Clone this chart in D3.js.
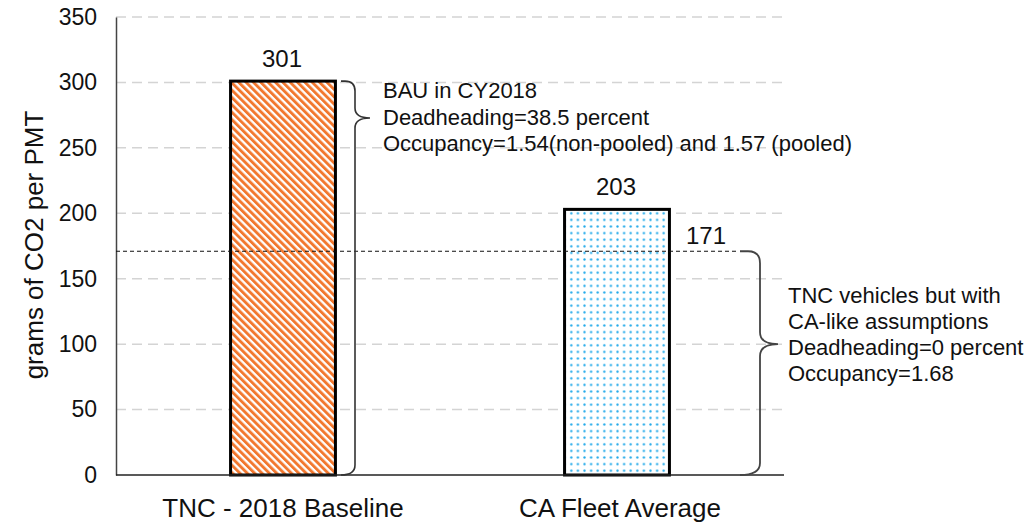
<!DOCTYPE html>
<html><head><meta charset="utf-8">
<script src="https://cdn.jsdelivr.net/npm/d3@7"></script>
<style>body{margin:0;background:#fff}svg{display:block;font-family:"Liberation Sans",Arial,sans-serif}</style>
</head><body><svg id="c" width="1035" height="523"></svg>
<script>
const categories = ["TNC - 2018 Baseline", "CA Fleet Average"];
const values = [301, 203];
const refValue = 171;
const yTicks = [0, 50, 100, 150, 200, 250, 300, 350];
const note1 = ["BAU in CY2018", "Deadheading=38.5 percent", "Occupancy=1.54(non-pooled) and 1.57 (pooled)"];
const note2 = ["TNC vehicles but with", "CA-like assumptions", "Deadheading=0 percent", "Occupancy=1.68"];
const yTitle = "grams of CO2 per PMT";

const svg = d3.select("#c");
const L = 116, R = 784, T = 17, B = 475;
const y = d3.scaleLinear().domain([0, 350]).range([B, T]);
const x = d3.scaleBand().domain(categories).range([L, R]).paddingInner(0.686).paddingOuter(0.343);

const defs = svg.append("defs");
const p1 = defs.append("pattern").attr("id","stripes").attr("patternUnits","userSpaceOnUse")
  .attr("width",5.2).attr("height",10).attr("patternTransform","rotate(-45)");
p1.append("rect").attr("width",5.2).attr("height",10).attr("fill","#fff");
p1.append("rect").attr("width",2.9).attr("height",10).attr("fill","#f2782f");
const p2 = defs.append("pattern").attr("id","dots").attr("patternUnits","userSpaceOnUse")
  .attr("width",6.6).attr("height",6.6).attr("x",568).attr("y",210);
p2.append("rect").attr("width",6.6).attr("height",6.6).attr("fill","#fff");
p2.append("circle").attr("cx",3.3).attr("cy",3.3).attr("r",1.15).attr("fill","#22aaea");

// gridlines
svg.append("g").selectAll("line").data(yTicks.filter(d=>d>0)).join("line")
  .attr("x1",L).attr("x2",R).attr("y1",d=>y(d)).attr("y2",d=>y(d))
  .attr("stroke","#d4d4d4").attr("stroke-width",1.5).attr("stroke-dasharray","10,6");

// y axis
const ya = svg.append("g").attr("transform",`translate(${L},0)`)
  .call(d3.axisLeft(y).tickValues(yTicks).tickSize(0).tickPadding(19));
ya.select(".domain").attr("stroke","#444").attr("stroke-width",1.5);
ya.selectAll("text").attr("font-size",23).attr("fill","#111").attr("font-family","Liberation Sans, Arial, sans-serif");

// bars
const fills = ["url(#stripes)","url(#dots)"];
svg.append("g").selectAll("rect").data(values).join("rect")
  .attr("x",(d,i)=>x(categories[i])).attr("width",x.bandwidth())
  .attr("y",d=>y(d)).attr("height",d=>B-y(d))
  .attr("fill",(d,i)=>fills[i]).attr("stroke","#000").attr("stroke-width",3);

// baseline
svg.append("line").attr("x1",L).attr("x2",R).attr("y1",B).attr("y2",B).attr("stroke","#222").attr("stroke-width",1.5);

// reference dashed line
svg.append("line").attr("x1",L).attr("x2",738).attr("y1",y(refValue)).attr("y2",y(refValue))
  .attr("stroke","#111").attr("stroke-width",1.2).attr("stroke-dasharray","4,3");

// value labels
svg.append("g").selectAll("text").data(values).join("text")
  .attr("x",(d,i)=>x(categories[i])+x.bandwidth()/2 - 1).attr("y",d=>y(d)-14)
  .attr("text-anchor","middle").attr("font-size",24).attr("fill","#111").text(d=>d);
svg.append("text").attr("x",706).attr("y",y(refValue)-7).attr("text-anchor","middle")
  .attr("font-size",24).attr("fill","#111").text(refValue);

// x labels
svg.append("g").selectAll("text").data(categories).join("text")
  .attr("x",(d,i)=>x(d)+x.bandwidth()/2 + (i===1?3:0)).attr("y",517).attr("text-anchor","middle")
  .attr("font-size",26).attr("fill","#111").text(d=>d);

// y title
svg.append("text").attr("transform","translate(43,245) rotate(-90)").attr("text-anchor","middle")
  .attr("font-size",26).attr("fill","#111").text(yTitle);

// braces
function brace(x0, xv, xt, yTop, yTip, yBot, r) {
  return `M${x0},${yTop} L${xv-r},${yTop} Q${xv},${yTop} ${xv},${yTop+r} L${xv},${yTip-r} Q${xv},${yTip} ${xt},${yTip} `
   + `Q${xv},${yTip} ${xv},${yTip+r} L${xv},${yBot-r} Q${xv},${yBot} ${x0},${yBot}`;
}
svg.append("path").attr("d",brace(341, 355, 370, y(values[0]), 118, B, 10))
  .attr("fill","none").attr("stroke","#333").attr("stroke-width",1.6);
svg.append("path").attr("d",brace(740, 760, 778, y(refValue), y(100), B, 12))
  .attr("fill","none").attr("stroke","#444").attr("stroke-width",1.8);

// notes
svg.append("g").selectAll("text").data(note1).join("text")
  .attr("x",383).attr("y",(d,i)=>98+i*26.5).attr("font-size",22).attr("fill","#111").text(d=>d);
svg.append("g").selectAll("text").data(note2).join("text")
  .attr("x",788).attr("y",(d,i)=>303+i*26).attr("font-size",22).attr("fill","#111").text(d=>d);
</script></body></html>
